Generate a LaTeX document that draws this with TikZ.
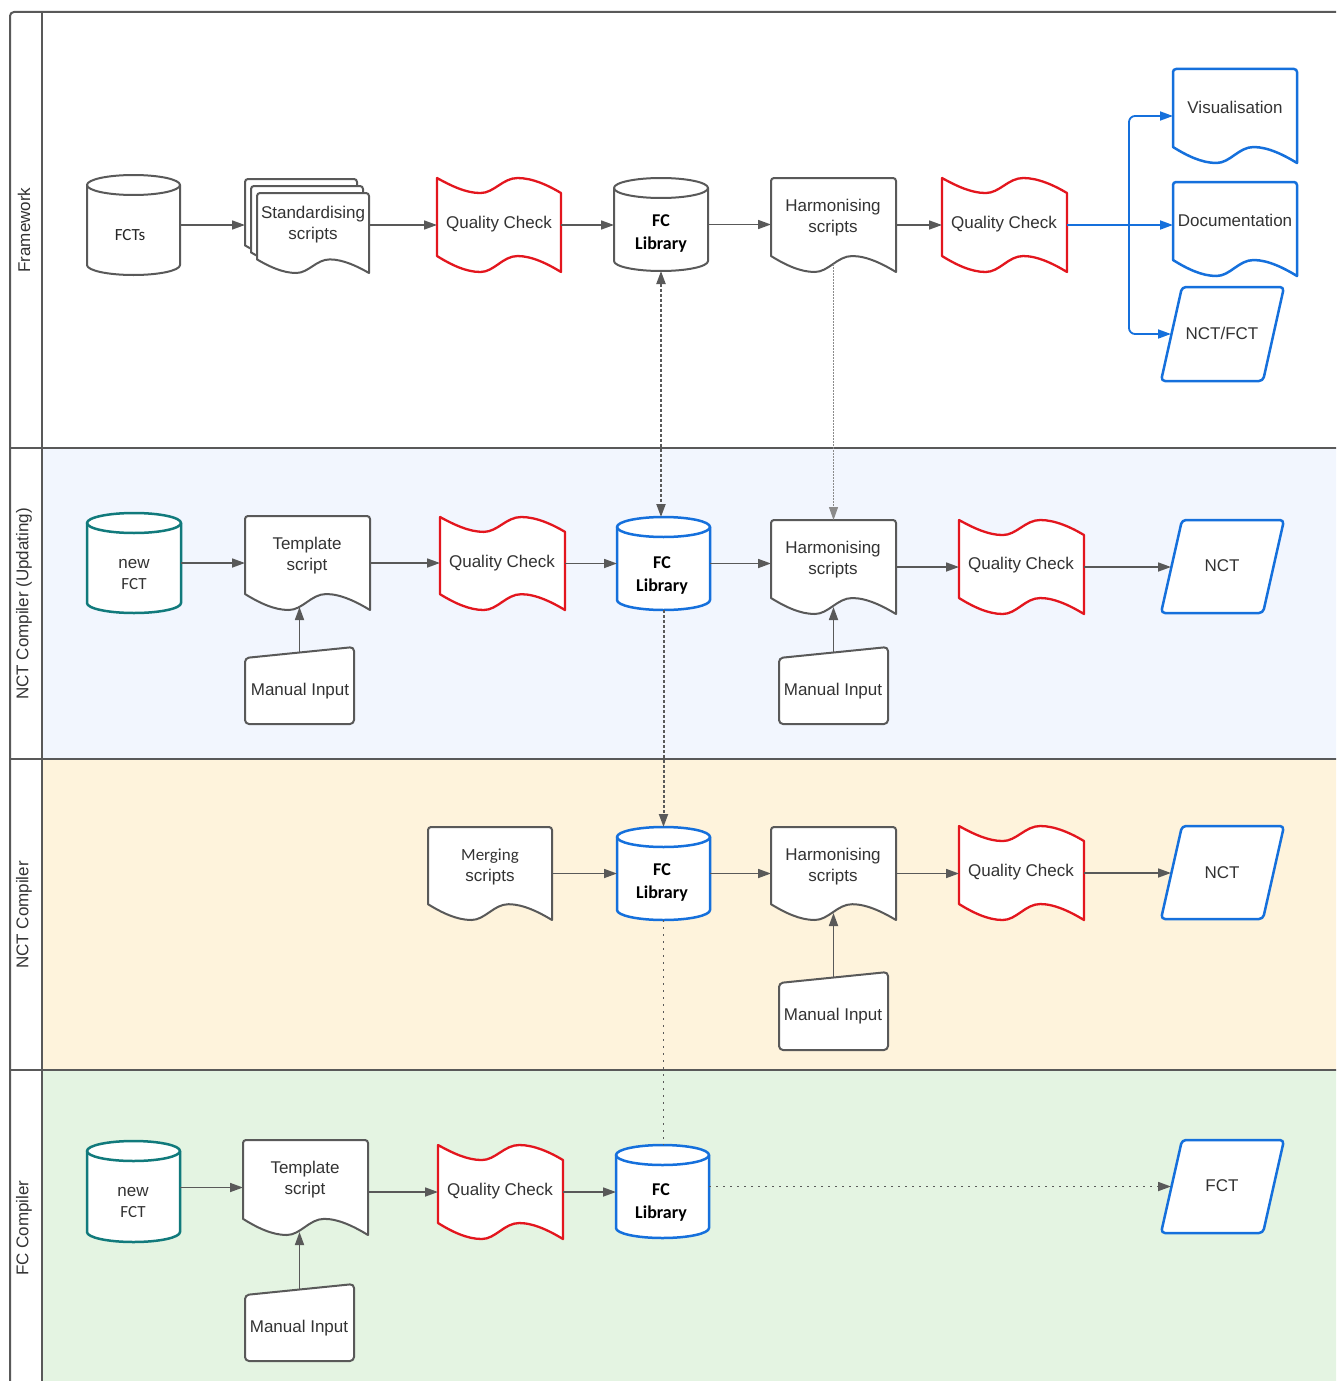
\documentclass[tikz,border=0pt]{standalone}
\usepackage{fontspec}
\setmainfont{Liberation Sans}
\newfontfamily\cali{Carlito}
\usetikzlibrary{arrows.meta,calc}
\definecolor{lgray}{HTML}{595959}
\definecolor{qred}{HTML}{E3161E}
\definecolor{oblue}{HTML}{1570DC}
\definecolor{tealc}{HTML}{117A7C}
\definecolor{laneB}{HTML}{F2F6FE}
\definecolor{laneO}{HTML}{FEF3DC}
\definecolor{laneG}{HTML}{E4F4E2}
\definecolor{txtg}{HTML}{333333}
\tikzset{
  shapebox/.style={inner sep=0pt, outer sep=0pt, draw=none},
  outl/.style={fill=white, line width=2pt, line join=round},
  graysh/.style={outl, draw=lgray},
  redsh/.style={outl, draw=qred, line width=2.3pt},
  bluesh/.style={outl, draw=oblue, line width=2.5pt},
  tealsh/.style={outl, draw=tealc, line width=2.5pt},
  txt/.style={font=\fontsize{17}{21}\selectfont, text=txtg, align=center, inner sep=0pt, yshift=-2.5pt},
  lanetxt/.style={font=\fontsize{17}{21}\selectfont, text=txtg, align=center, inner sep=0pt},
  cal/.style={font=\cali\fontsize{17}{21}\selectfont, text=black!85, align=center, inner sep=0pt},
  libt/.style={font=\cali\bfseries\fontsize{18}{23}\selectfont, text=black, align=center, inner sep=0pt, yshift=-3pt},
  tip/.style={-{Triangle[length=13pt,width=9pt]}},
  conn/.style={draw=lgray, line width=1.7pt, tip},
  bconn/.style={draw=oblue, line width=1.8pt},
  dashc/.style={draw=lgray, line width=2pt, dash pattern=on 3pt off 2pt},
  dotc/.style={draw=lgray, line width=1.8pt, dash pattern=on 2pt off 5pt},
  thindot/.style={draw=lgray!70, line width=1pt, dash pattern=on 1.5pt off 1.5pt},
  frame/.style={draw=lgray, line width=2pt},
}
\newcommand\mkbox[5]{\node[shapebox, minimum width=#4pt, minimum height=#5pt] (#1) at ({#2+#4/2},{#3+#5/2}) {};}
\newcommand\mkdoc[6]{%
  \mkbox{#1}{#2}{#3}{#4}{#5}
  \filldraw[#6, shift={(#1.north west)}, x=#4pt, y=-#5pt] (0,0.83) [rounded corners=3pt] -- (0,0) -- (1,0) [sharp corners] -- (1,1)
    .. controls (0.9,0.92) and (0.77,0.83) .. (0.65,0.83)
    .. controls (0.53,0.83) and (0.46,1) .. (0.35,1)
    .. controls (0.23,1) and (0.11,0.92) .. (0,0.83) -- cycle;}
\newcommand\mktape[6]{%
  \mkbox{#1}{#2}{#3}{#4}{#5}
  \filldraw[#6, shift={(#1.north west)}, x=#4pt, y=-#5pt] (0,0)
    .. controls (0.11,0.08) and (0.23,0.16) .. (0.35,0.16)
    .. controls (0.46,0.16) and (0.53,0) .. (0.65,0)
    .. controls (0.77,0) and (0.9,0.08) .. (1,0.16) -- (1,1)
    .. controls (0.9,0.92) and (0.77,0.83) .. (0.65,0.83)
    .. controls (0.53,0.83) and (0.46,1) .. (0.35,1)
    .. controls (0.23,1) and (0.11,0.92) .. (0,0.83) -- cycle;}
\newcommand\mkcyl[6]{%
  \mkbox{#1}{#2}{#3}{#4}{#5}
  \pgfmathsetmacro\cylr{10/#5}
  \filldraw[#6, shift={(#1.north west)}, x=#4pt, y=-#5pt] (0,\cylr) -- (0,{1-\cylr})
    .. controls (0,{1-0.448*\cylr}) and (0.224,1) .. (0.5,1)
    .. controls (0.776,1) and (1,{1-0.448*\cylr}) .. (1,{1-\cylr}) -- (1,\cylr)
    .. controls (1,{0.448*\cylr}) and (0.776,0) .. (0.5,0)
    .. controls (0.224,0) and (0,{0.448*\cylr}) .. (0,\cylr) -- cycle;
  \draw[#6, fill=none, shift={(#1.north west)}, x=#4pt, y=-#5pt] (0,\cylr)
    .. controls (0,{1.552*\cylr}) and (0.224,{2*\cylr}) .. (0.5,{2*\cylr})
    .. controls (0.776,{2*\cylr}) and (1,{1.552*\cylr}) .. (1,\cylr);}
\newcommand\mkpara[6]{%
  \mkbox{#1}{#2}{#3}{#4}{#5}
  \pgfmathsetmacro\pars{21/#4}
  \filldraw[#6, rounded corners=4pt, shift={(#1.north west)}, x=#4pt, y=-#5pt] (\pars,0) -- (1,0) -- ({1-\pars},1) -- (0,1) -- cycle;}
\newcommand\mkmanual[6]{%
  \mkbox{#1}{#2}{#3}{#4}{#5}
  \pgfmathsetmacro\mans{11/#5}
  \filldraw[#6, rounded corners=4pt, shift={(#1.north west)}, x=#4pt, y=-#5pt] (0,\mans) -- (1,0) -- (1,1) -- (0,1) -- cycle;}
\begin{document}
\begin{tikzpicture}[x=1pt,y=-1pt]
\useasboundingbox (0,0) rectangle (1336,1381);
\clip (0,0) rectangle (1336,1381);
% lanes
\fill[laneB] (42,448) rectangle (1340,759);
\fill[laneO] (42,759) rectangle (1340,1070);
\fill[laneG] (42,1070) rectangle (1340,1390);
\draw[frame, rounded corners=4pt] (1345,12) -- (10,12) -- (10,1395);
\draw[frame] (42,12) -- (42,1395);
\draw[frame] (10,448) -- (1345,448);
\draw[frame] (10,759) -- (1345,759);
\draw[frame] (10,1070) -- (1345,1070);
\node[lanetxt, rotate=90] (lab1) at (24,230) {Framework};
\node[lanetxt, rotate=90] (lab2) at (24,604) {NCT Compiler (Updating)};
\node[lanetxt, rotate=90] (lab3) at (24,915) {NCT Compiler};
\node[lanetxt, rotate=90] (lab4) at (24,1228) {FC Compiler};

% ---- lane 1
\mkcyl{fcts}{87}{175}{93}{100}{graysh}
\node[cal] (fcts-t) at (130,235) {FCTs};
\mkdoc{stdc}{245}{179}{112}{80}{graysh}
\mkdoc{stdb}{251}{186}{112}{80}{graysh}
\mkdoc{stda}{257}{193}{112}{80}{graysh}
\node[txt] (std-t) at (313,222) {Standardising\\scripts};
\mktape{qc1}{437}{178}{124}{94}{redsh}
\node[txt] (qc1-t) at (499,222) {Quality Check};
\mkcyl{fc1}{614}{178}{94}{93}{graysh}
\node[libt] (fc1-t) at (661,231) {FC\\Library};
\mkdoc{h1}{771}{178}{125}{94}{graysh}
\node[txt] (h1-t) at (833,215) {Harmonising\\scripts};
\mktape{qc2}{942}{178}{125}{94}{redsh}
\node[txt] (qc2-t) at (1004,222) {Quality Check};
\mkdoc{vis}{1173}{69}{124}{94}{bluesh}
\node[txt] (vis-t) at (1235,105) {Visualisation};
\mkdoc{docu}{1173}{182}{124}{94}{bluesh}
\node[txt] (docu-t) at (1235,218) {Documentation};
\mkpara{nctfct}{1161}{287}{123}{94}{bluesh}
\node[txt] (nctfct-t) at (1222,331) {NCT/FCT};

% ---- lane 2
\mkcyl{nf2}{87}{513}{94}{100}{tealsh}
\node[txt] (nf2-t) at (134,572) {new\\{\cali\fontsize{17}{21}\selectfont FCT}};
\mkdoc{t2}{245}{516}{125}{94}{graysh}
\node[txt] (t2-t) at (307,553) {Template\\script};
\mktape{qc3}{440}{517}{125}{93}{redsh}
\node[txt] (qc3-t) at (502,561) {Quality Check};
\mkcyl{fc2}{617}{517}{93}{93}{bluesh}
\node[libt] (fc2-t) at (662,573) {FC\\Library};
\mkdoc{h2}{771}{520}{125}{94}{graysh}
\node[txt] (h2-t) at (833,557) {Harmonising\\scripts};
\mktape{qc4}{959}{520}{125}{94}{redsh}
\node[txt] (qc4-t) at (1021,563) {Quality Check};
\mkpara{nct2}{1161}{520}{123}{93}{bluesh}
\node[txt] (nct2-t) at (1222,563) {NCT};
\mkmanual{mi2a}{245}{647}{109}{77}{graysh}
\node[txt] (mi2a-t) at (300,689) {Manual Input};
\mkmanual{mi2b}{779}{647}{109}{77}{graysh}
\node[txt] (mi2b-t) at (833,689) {Manual Input};

% ---- lane 3
\mkdoc{mrg}{428}{827}{124}{93}{graysh}
\node[txt] (mrg-t) at (490,864) {{\cali\fontsize{17}{21}\selectfont Merging}\\scripts};
\mkcyl{fc3}{617}{827}{93}{93}{bluesh}
\node[libt] (fc3-t) at (662,880) {FC\\Library};
\mkdoc{h3}{771}{827}{125}{93}{graysh}
\node[txt] (h3-t) at (833,864) {Harmonising\\scripts};
\mktape{qc5}{959}{826}{125}{94}{redsh}
\node[txt] (qc5-t) at (1021,870) {Quality Check};
\mkpara{nct3}{1161}{826}{123}{93}{bluesh}
\node[txt] (nct3-t) at (1222,870) {NCT};
\mkmanual{mi3}{779}{972}{109}{78}{graysh}
\node[txt] (mi3-t) at (833,1014) {Manual Input};

% ---- lane 4
\mkcyl{nf4}{87}{1141}{93}{101}{tealsh}
\node[txt] (nf4-t) at (133,1200) {new\\{\cali\fontsize{17}{21}\selectfont FCT}};
\mkdoc{t4}{243}{1140}{125}{95}{graysh}
\node[txt] (t4-t) at (305,1177) {Template\\script};
\mktape{qc6}{438}{1145}{125}{94}{redsh}
\node[txt] (qc6-t) at (500,1189) {Quality Check};
\mkcyl{fc4}{616}{1145}{93}{93}{bluesh}
\node[libt] (fc4-t) at (661,1199) {FC\\Library};
\mkpara{fct4}{1161}{1140}{123}{93}{bluesh}
\node[txt] (fct4-t) at (1222,1183) {FCT};
\mkmanual{mi4}{245}{1284}{109}{77}{graysh}
\node[txt] (mi4-t) at (299,1326) {Manual Input};

% ---- connectors lane 1
\draw[conn] (fcts.east) -- (fcts.east -| stdc.west);
\draw[conn] (qc1.west -| stda.east) -- (qc1.west);
\draw[conn] (qc1.east) -- (qc1.east -| fc1.west);
\draw[conn] (fc1.east) -- (fc1.east -| h1.west);
\draw[conn] (h1.east) -- (h1.east -| qc2.west);
\coordinate (br) at (1129,225);
\draw[bconn] (qc2.east) -- (br);
\draw[bconn, tip, rounded corners=6pt] (br) |- (vis.west);
\draw[bconn, tip] (br) -- (br -| docu.west);
\draw[bconn, tip, rounded corners=6pt] (br) |- ($(nctfct.west)+(10,0)$);
% ---- connectors lane 2
\draw[conn] (nf2.east) -- (nf2.east -| t2.west);
\draw[conn] (t2.east) -- (t2.east -| qc3.west);
\draw[conn] (qc3.east) -- (qc3.east -| fc2.west);
\draw[conn] (fc2.east) -- (fc2.east -| h2.west);
\draw[conn] (h2.east) -- (h2.east -| qc4.west);
\draw[conn] (qc4.east) -- ($(qc4.east -| nct2.west)+(10,0)$);
\draw[conn] ($(mi2a.north)+(0,5)$) -- ($(mi2a.north |- t2.south)+(0,-3)$);
\draw[conn] ($(mi2b.north)+(0,5)$) -- ($(mi2b.north |- h2.south)+(0,-7)$);
% ---- connectors lane 3
\draw[conn] (mrg.east) -- (mrg.east -| fc3.west);
\draw[conn] (fc3.east) -- (fc3.east -| h3.west);
\draw[conn] (h3.east) -- (h3.east -| qc5.west);
\draw[conn] (qc5.east) -- ($(qc5.east -| nct3.west)+(10,0)$);
\draw[conn] ($(mi3.north)+(0,5)$) -- ($(mi3.north |- h3.south)+(0,-7)$);
% ---- connectors lane 4
\draw[conn] (nf4.east |- t4.west) -- (t4.west);
\draw[conn] (t4.east |- qc6.west) -- (qc6.west);
\draw[conn] (qc6.east) -- (qc6.east -| fc4.west);
\draw[conn] ($(mi4.north)+(0,5)$) -- ($(mi4.north |- t4.south)+(0,-3)$);
\draw[dotc, tip] (fc4.east |- fct4.west) -- ($(fct4.west)+(10,0)$);
% ---- vertical links
\draw[dashc, {Triangle[length=13pt,width=9pt]}-{Triangle[length=13pt,width=9pt]}] (fc1.south) -- (fc1.south |- fc2.north);
\draw[thindot, tip] ($(h1.south)+(0,-8)$) -- (h1.south |- h2.north);
\draw[dashc, tip] (fc2.south) -- (fc2.south |- fc3.north);
\draw[dotc] (fc3.south) -- (fc3.south |- fc4.north);
\end{tikzpicture}
\end{document}
